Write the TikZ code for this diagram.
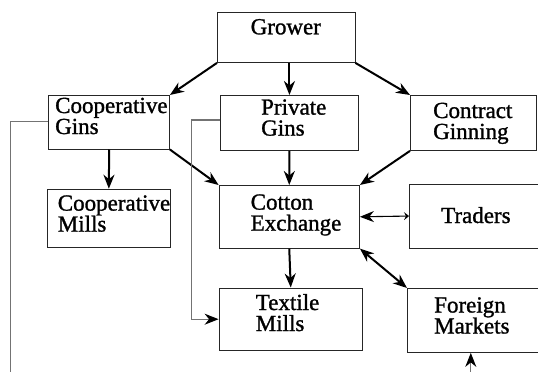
\documentclass[tikz,border=0pt]{standalone}
\usepackage{fontspec}
\setmainfont{Liberation Serif}[FakeBold=1.2]
\usetikzlibrary{arrows.meta,calc}
\tikzset{
  box/.style={draw=black!85, line width=0.9pt, inner sep=0pt, anchor=north west},
  txt/.style={anchor=base west, inner sep=0pt, align=left, font=\fontsize{23}{21}\selectfont},
  thick arrow/.style={line width=2pt, -{Stealth[length=14pt,width=11pt,inset=4.5pt]}},
  dbl arrow/.style={line width=2pt, {Stealth[length=14pt,width=11pt,inset=4.5pt]}-{Stealth[length=14pt,width=11pt,inset=4.5pt]}},
  thin line/.style={draw=black!55, line width=1.1pt},
  thin arrow/.style={thin line, -{Stealth[length=14pt,width=11pt,inset=4.5pt,black]}},
}
\begin{document}
\begin{tikzpicture}[x=1pt,y=-1pt]
\useasboundingbox (0,0) rectangle (538,372);
% boxes
\node[box, minimum width=137.5pt, minimum height=50pt] (grower) at (217,12) {};
\node[box, minimum width=120.6pt, minimum height=53.6pt] (coopgins) at (48.4,95) {};
\node[box, minimum width=138pt, minimum height=55pt] (privgins) at (220,95) {};
\node[box, minimum width=126pt, minimum height=55pt] (contract) at (410,95) {};
\node[box, minimum width=122.2pt, minimum height=58pt] (coopmills) at (47.3,188.7) {};
\node[box, minimum width=140.4pt, minimum height=62.7pt] (cotton) at (218.6,185) {};
\node[box, minimum width=140pt, minimum height=64pt] (traders) at (409,183.6) {};
\node[box, minimum width=143.4pt, minimum height=62.5pt] (textile) at (218.6,287.5) {};
\node[box, minimum width=140pt, minimum height=64pt] (foreign) at (407,288) {};
% texts (anchor = baseline of the last line)
\node[txt] (tgrower) at (250.5,34.3) {Grower};
\node[txt] (tcoopgins) at (55,134) {Cooperative\\Gins};
\node[txt] (tprivgins) at (261,135.6) {Private\\Gins};
\node[txt] (tcontract) at (433,139) {Contract\\Ginning};
\node[txt] (tcoopmills) at (57.6,231.6) {Cooperative\\Mills};
\node[txt] (tcotton) at (250.5,230.6) {Cotton\\Exchange};
\node[txt] (ttraders) at (441,223) {Traders};
\node[txt] (ttextile) at (255.6,331) {Textile\\Mills};
\node[txt] (tforeign) at (434,333.5) {Foreign\\Markets};
% free ends
\coordinate (cgleft) at (10.3,121.8);
\coordinate (cgbottom) at (10.3,380);
\coordinate (pgleft) at (191.5,120);
\coordinate (fmbottom) at (470.8,380);
% thick arrows
\draw[thick arrow] (grower.south west) -- (coopgins.north east);
\draw[thick arrow] (privgins.north |- grower.south) -- (privgins.north);
\draw[thick arrow] (grower.south east) -- (contract.north west);
\draw[thick arrow] (coopgins.south) -- (coopmills.north);
\draw[thick arrow] (coopgins.south east) -- (cotton.north west);
\draw[thick arrow] (privgins.south) -- (cotton.north);
\draw[thick arrow] (contract.south west) -- (cotton.north east);
\draw[thick arrow] (cotton.south) -- (textile.north);
\draw[dbl arrow] (cotton.south east) -- (foreign.north west);
\draw[line width=1.1pt, {Stealth[length=14pt,width=11pt,inset=4.5pt]}-{Stealth[length=5pt,width=8pt,inset=2pt]}] (cotton.east) -- (traders.west);
% thin lines
\draw[thin line] (coopgins.west |- cgleft) -- (cgleft) -- (cgbottom);
\draw[thin arrow] (privgins.west |- pgleft) -- (pgleft) |- (textile.west);
\draw[thin arrow] (fmbottom) -- (fmbottom |- foreign.south);
\end{tikzpicture}
\end{document}
